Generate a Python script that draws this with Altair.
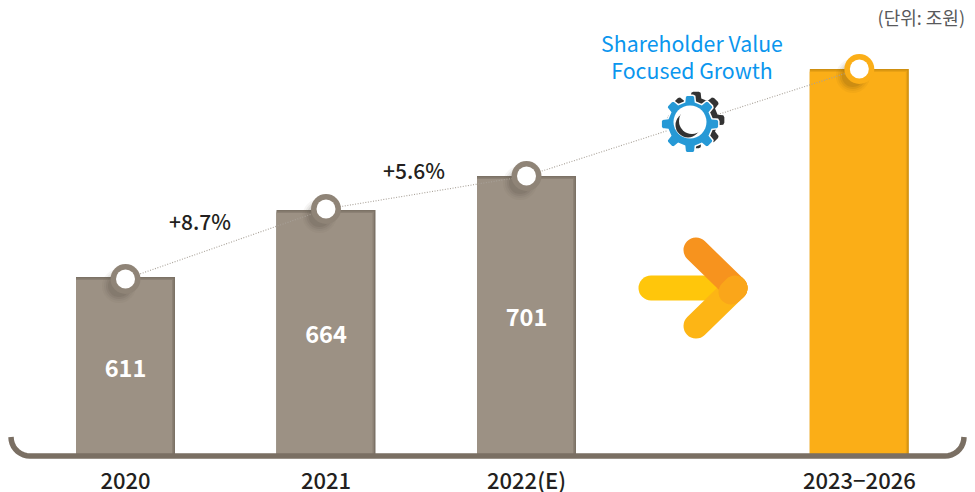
import math
import altair as alt
import pandas as pd

categories = ["2020", "2021", "2022(E)", "2023−2026"]
slots = [0, 1, 2, 3.66]
heights = [178, 245, 279, 386]
pin_heights = [176, 246, 279, 386]
bar_labels = ["611", "664", "701", ""]
FONT = "Noto Sans CJK KR"
GRAY, GRAY_MID, GRAY_DARK = "#9C9184", "#8C8175", "#7C7266"
ORANGE, ORANGE_MID, ORANGE_DARK = "#FBAE17", "#EAA214", "#CF8F0F"
bar_fill = [GRAY, GRAY, GRAY, ORANGE]
bar_mid = [GRAY_MID, GRAY_MID, GRAY_MID, ORANGE_MID]
bar_edge = [GRAY_DARK, GRAY_DARK, GRAY_DARK, ORANGE_DARK]
ring_fill = ["#8F8477", "#8F8477", "#8F8477", ORANGE]
shadow_fill = ["#5E554B", "#5E554B", "#5E554B", "#7A5A10"]

def px(p):
    return (p - 125.5) / 200.5

def py(p):
    return 455 - p

X = alt.Scale(domain=[px(8), px(967)], nice=False, zero=False, padding=0)
Y = alt.Scale(domain=[0, 447], nice=False, zero=False, padding=0)
xe = lambda f="x": alt.X(f"{f}:Q", scale=X, axis=None)
ye = lambda f="y": alt.Y(f"{f}:Q", scale=Y, axis=None)

bars = pd.DataFrame({
    "cat": categories, "x": slots, "h": heights, "pin": pin_heights,
    "label": bar_labels, "fill": bar_fill, "mid_c": bar_mid, "edge": bar_edge,
    "ring": ring_fill, "shadow": shadow_fill,
})
bars["h_mid"] = bars["h"] - 1.5
bars["h_in"] = bars["h"] - 3
bars["mid"] = bars["h"] / 2 - 3.5
bars["sx"] = bars["x"] + px(119) - px(125.5)
bars["sy"] = bars["pin"] - 7
bars["lab_y"] = py(482)

edge = alt.Chart(bars).mark_bar(width=99).encode(
    x=xe(), y=ye("h"), y2=alt.datum(0), color=alt.Color("edge:N", scale=None))
mid = alt.Chart(bars).mark_bar(width=97.5, xOffset=-0.75).encode(
    x=xe(), y=ye("h_mid"), y2=alt.datum(0), color=alt.Color("mid_c:N", scale=None))
inner = alt.Chart(bars).mark_bar(width=96, xOffset=-1.5).encode(
    x=xe(), y=ye("h_in"), y2=alt.datum(0), color=alt.Color("fill:N", scale=None))

shadows = []
for d, op in [(34, 0.06), (30, 0.08), (26, 0.12), (22, 0.16)]:
    shadows.append(alt.Chart(bars).mark_circle(size=d * d, opacity=op).encode(
        x=xe("sx"), y=ye("sy"), color=alt.Color("shadow:N", scale=None)))

def line(pts, color, width, opacity=1.0, cap="round"):
    df = pd.DataFrame([{"x": px(a), "y": py(b), "i": i} for i, (a, b) in enumerate(pts)])
    return alt.Chart(df).mark_line(color=color, strokeWidth=width, opacity=opacity,
                                   strokeCap=cap).encode(
        x=xe(), y=ye(), order="i:Q")

trend = alt.Chart(bars).mark_line(color="#A8A198", strokeWidth=1.1, strokeDash=[1, 1.6]).encode(
    x=xe(), y=ye("pin"), order="x:Q")

rings = alt.Chart(bars).mark_circle(size=30 * 30, opacity=1).encode(
    x=xe(), y=ye("pin"), color=alt.Color("ring:N", scale=None))
holes = alt.Chart(bars).mark_circle(size=19 * 19, opacity=1, color="white").encode(
    x=xe(), y=ye("pin"))
bar_text = alt.Chart(bars).mark_text(font=FONT, fontSize=23.6, fontWeight=700, color="white").encode(
    x=xe(), y=ye("mid"), text="label:N")
axis_text = alt.Chart(bars).mark_text(font=FONT, fontSize=22, fontWeight=500, color="#231F20").encode(
    x=xe(), y=ye("lab_y"), text="cat:N")

def text(s, a, b, size, color, align="center", weight=400):
    df = pd.DataFrame({"x": [px(a)], "y": [py(b)], "t": [s]})
    return alt.Chart(df).mark_text(font=FONT, fontSize=size, color=color, align=align,
                                   baseline="middle", fontWeight=weight).encode(
        x=xe(), y=ye(), text="t:N")

# bracket under the bars
R = 19
arc_l = [(30 - R * math.cos(math.radians(t)), 437 + R * math.sin(math.radians(t))) for t in range(0, 91, 10)]
arc_r = [(945 + R * math.cos(math.radians(t)), 437 + R * math.sin(math.radians(t))) for t in range(90, -1, -10)]
bracket = line(arc_l + arc_r, "#7A6F63", 5.5, cap="butt")

# gear
def gear_path(n=8, root=0.78):
    pts = []
    for k in range(n):
        c = 2 * math.pi * k / n
        for r, da in [(root, -0.24), (0.97, -0.17), (1.0, -0.1), (1.0, 0.1), (0.97, 0.17), (root, 0.24)]:
            pts.append((r * math.cos(c + da), r * math.sin(c + da)))
    return "M" + "L".join(f"{a:.3f},{b:.3f}" for a, b in pts) + "Z"

GEAR = gear_path()

def symbol(a, b, d, fill, shape="circle", stroke=None, sw=0):
    df = pd.DataFrame({"x": [px(a)], "y": [py(b)]})
    kw = {"stroke": stroke, "strokeWidth": sw} if stroke else {"strokeWidth": 0}
    return alt.Chart(df).mark_point(shape=shape, size=d * d, filled=True, fill=fill, opacity=1, **kw).encode(
        x=xe(), y=ye())

gear = [
    symbol(696, 120, 57, "#333333", GEAR),
    symbol(690, 124, 58, "#2699D6", GEAR, stroke="white", sw=1.5),
    symbol(690, 122, 33, "white"),
    symbol(688, 125, 25, "#333333"),
    symbol(692, 121, 26, "white"),
]

arrow = [
    line([(651, 288), (735, 288)], "#FFC60B", 25),
    line([(696, 326), (735, 288)], "#FDB515", 25),
    line([(696, 250), (735, 288)], "#F7931E", 25),
    line([(735, 288), (731, 292)], "#FAA61A", 25),
]

chart = alt.layer(
    edge, mid, inner, *shadows, trend, rings, holes, bar_text, axis_text, bracket, *gear, *arrow,
    text("+8.7%", 200, 224, 21, "#231F20", weight=500),
    text("+5.6%", 414, 173, 21, "#231F20", weight=500),
    text("Shareholder Value", 692, 45.5, 21.3, "#0A96EE"),
    text("Focused Growth", 692, 72.5, 21.3, "#0A96EE"),
    text("(단위: 조원)", 965, 19.5, 18, "#58595B", align="right"),
).properties(
    width=959, height=447,
    padding={"left": 0, "top": 0, "right": 0, "bottom": 37},
    autosize=alt.AutoSizeParams(type="none"),
).configure_view(stroke=None)

chart.save("out.html", embed_options={"renderer": "svg", "actions": False})
